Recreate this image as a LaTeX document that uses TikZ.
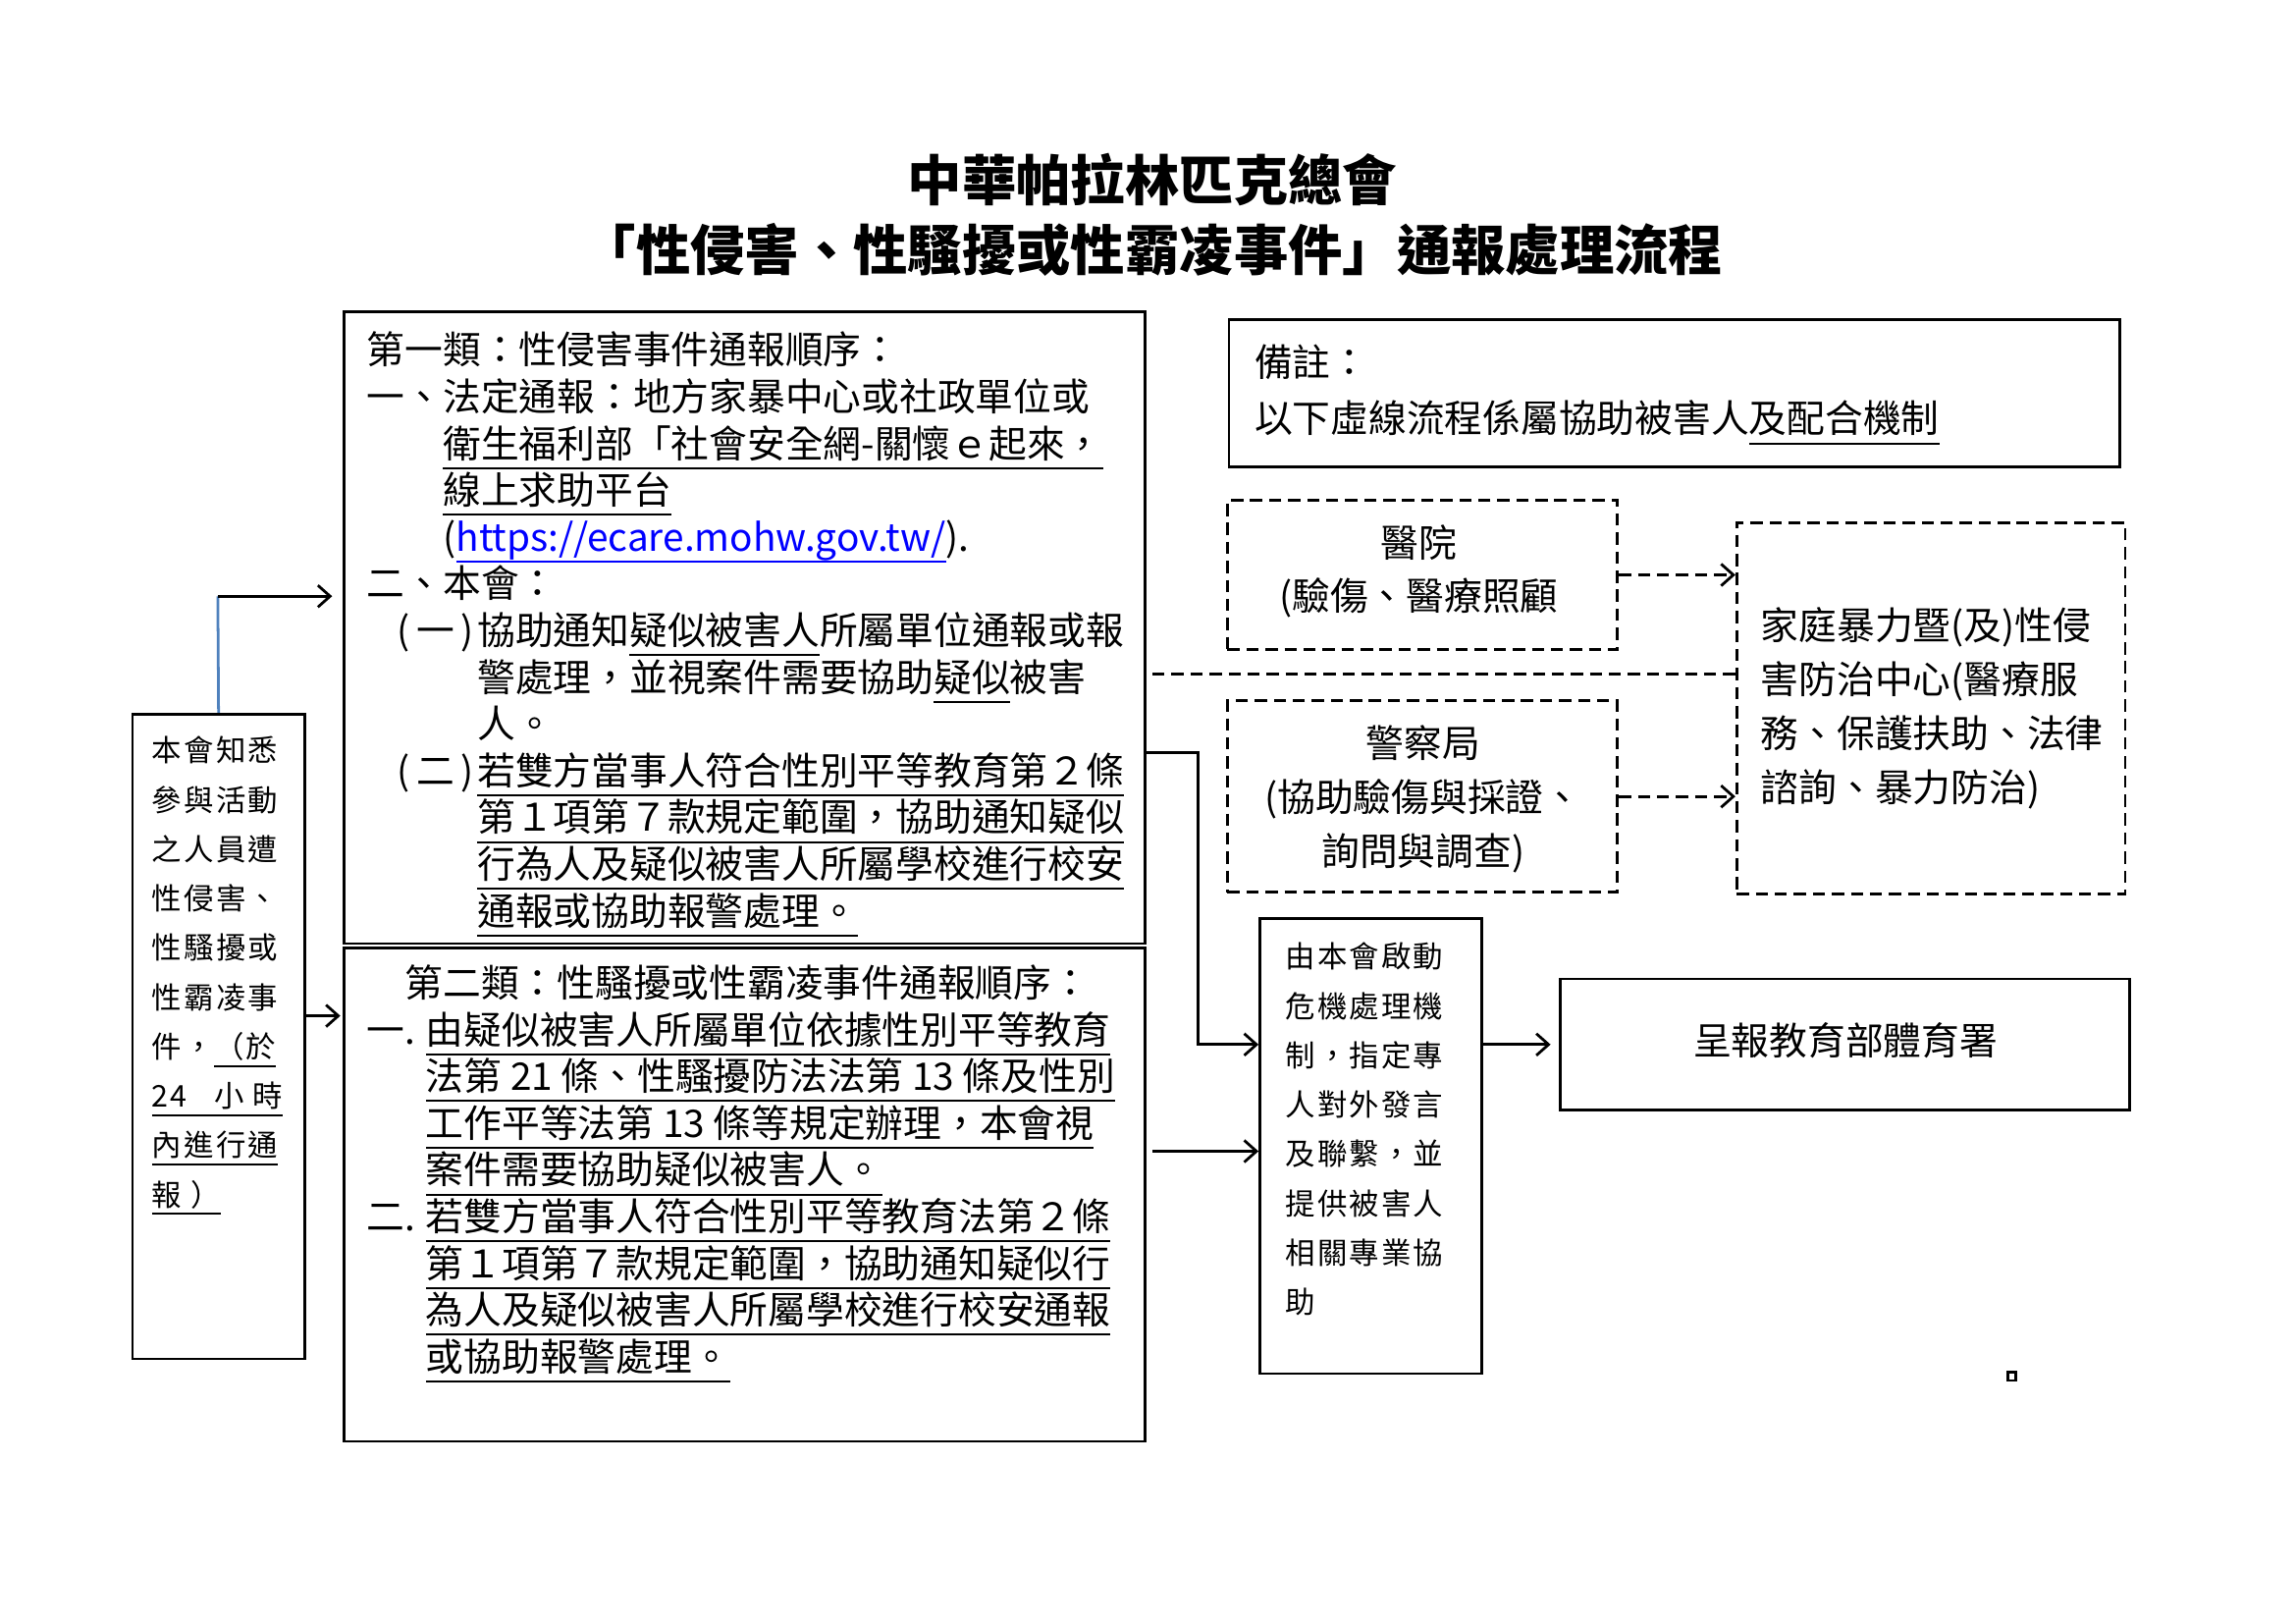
\documentclass[tikz,border=0pt]{standalone}
\usepackage{fontspec}
\setmainfont{Noto Sans CJK TC}
\usetikzlibrary{arrows.meta,fit}
\definecolor{lineblue}{RGB}{79,129,189}
\newcommand{\ulx}[1]{\setbox0\hbox{#1}\rlap{\rule[-0.3em]{\wd0}{0.7pt}}\box0}
\newcommand{\pnum}[1]{\makebox[2.1em][l]{(\,#1\,)}}
\begin{document}
\begin{tikzpicture}[x=0.19038mm,y=-0.19038mm,
  box/.style={draw,line width=1pt,inner sep=0pt},
  dbox/.style={box,dash pattern=on 4.5pt off 2.5pt},
  body/.style={font=\fontsize{14pt}{17.2pt}\selectfont,align=left,anchor=north west,inner sep=0pt},
  narrowtxt/.style={font=\fontsize{11pt}{18.15pt}\selectfont\addfontfeature{LetterSpace=7},align=left,anchor=north west,inner sep=0pt},
  arr/.style={line width=1pt,-{Straight Barb[length=4.5pt,width=8pt]}},
  darr/.style={arr,dash pattern=on 4.5pt off 2.5pt}]
  \useasboundingbox (0,0) rectangle (1560,1103);

  \node[font=\bfseries\fontsize{20pt}{25.4pt}\selectfont,align=center] (title) at (783,146)
    {中華帕拉林匹克總會\\「性侵害、性騷擾或性霸凌事件」通報處理流程};

  \node[box,fit={(234,212) (778,641)}] (cat1) {};
  \node[body] (cat1txt) at (249,225) {第一類：性侵害事件通報順序：\\
    一、法定通報：地方家暴中心或社政單位或\\
    \hspace*{2em}\ulx{衛生福利部「社會安全網-關懷ｅ起來，}\\
    \hspace*{2em}\ulx{線上求助平台}\\
    \hspace*{2em}(\textcolor{blue}{\ulx{https://ecare.mohw.gov.tw/}}).\\
    二、本會：\\
    \hspace*{0.8em}\pnum{一}協助通知\ulx{疑似被害人}所屬單位通報或報\\
    \hspace*{2.9em}警處理，並視案件需要協助\ulx{疑似}被害\\
    \hspace*{2.9em}人。\\
    \hspace*{0.8em}\pnum{二}\ulx{若雙方當事人符合性別平等教育第２條}\\
    \hspace*{2.9em}\ulx{第１項第７款規定範圍，協助通知疑似}\\
    \hspace*{2.9em}\ulx{行為人及疑似被害人所屬學校進行校安}\\
    \hspace*{2.9em}\ulx{通報或協助報警處理。}};

  \node[box,fit={(234,644) (778,979)}] (cat2) {};
  \node[body] (cat2txt) at (249,655) {\hspace*{1em}第二類：性騷擾或性霸凌事件通報順序：\\
    \makebox[1.55em][l]{一.}\ulx{由疑似被害人所屬單位依據性別平等教育}\\
    \hspace*{1.55em}\ulx{法第 21 條、性騷擾防法法第 13 條及性別}\\
    \hspace*{1.55em}\ulx{工作平等法第 13 條等規定辦理，本會視}\\
    \hspace*{1.55em}\ulx{案件需要協助疑似被害人。}\\
    \makebox[1.55em][l]{二.}\ulx{若雙方當事人符合性別平等教育法第２條}\\
    \hspace*{1.55em}\ulx{第１項第７款規定範圍，協助通知疑似行}\\
    \hspace*{1.55em}\ulx{為人及疑似被害人所屬學校進行校安通報}\\
    \hspace*{1.55em}\ulx{或協助報警處理。}};

  \node[box,fit={(90,485) (207,923)}] (aware) {};
  \node[narrowtxt] (awaretxt) at (103,500) {本會知悉\\參與活動\\之人員遭\\性侵害、\\性騷擾或\\性霸凌事\\
    件，\ulx{（於}\\\ulx{24\hspace{0.9em}小\hspace{0.3em}時}\\\ulx{內進行通}\\\ulx{報 ）}};

  \node[box,fit={(835,217) (1440,317)}] (note) {};
  \node[body,font=\fontsize{14pt}{20.6pt}\selectfont] (notetxt) at (852,234)
    {備註：\\以下虛線流程係屬協助被害人\ulx{及配合機制}};

  \node[dbox,fit={(834,340) (1099,441)}] (hosp) {};
  \node[font=\fontsize{14pt}{19.5pt}\selectfont,align=center] (hosptxt) at (964,388) {醫院\\(驗傷、醫療照顧};
  \node[dbox,fit={(834,476) (1099,606)}] (police) {};
  \node[font=\fontsize{14pt}{19.8pt}\selectfont,align=center] (policetxt) at (967,543)
    {警察局\\(協助驗傷與採證、\\詢問與調查)};
  \node[dbox,fit={(1180,355) (1444,607)}] (center) {};
  \node[body,font=\fontsize{14pt}{19.9pt}\selectfont] (centertxt) at (1196,412)
    {家庭暴力暨(及)性侵\\害防治中心(醫療服\\務、保護扶助、法律\\諮詢、暴力防治)};

  \node[box,fit={(856,624) (1007,933)}] (crisis) {};
  \node[narrowtxt] (crisistxt) at (873,640) {由本會啟動\\危機處理機\\制，指定專\\人對外發言\\及聯繫，並\\提供被害人\\相關專業協\\助};

  \node[box,fit={(1060,665) (1447,754)}] (report) {};
  \node[font=\fontsize{14pt}{17pt}\selectfont] (reporttxt) at (1254,707) {呈報教育部體育署};

  \node[draw,line width=1pt,minimum size=3pt,inner sep=0pt] (dot) at (1367,935) {};

  \coordinate (up) at (148,405);
  \coordinate (tocat2) at (207,690);
  \coordinate (bend) at (814,511);
  \coordinate (fromcat2) at (783,782);
  \coordinate (side) at (783,458);

  \draw[lineblue,line width=1pt] (aware.north) -- (up);
  \draw[arr,shorten >=4pt] (up) -- (up -| cat1.west);
  \draw[arr,shorten >=1pt] (tocat2) -- (tocat2 -| cat2.west);
  \draw[arr] (bend -| cat1.east) -- (bend) |- (crisis.west |- report.west);
  \draw[arr] (fromcat2) -- (fromcat2 -| crisis.west);
  \draw[arr,shorten >=3pt] (crisis.east |- report.west) -- (report.west);
  \draw[line width=1pt,dash pattern=on 4.5pt off 2.5pt] (side) -- (side -| center.west);
  \draw[darr] (hosp.east) -- (hosp.east -| center.west);
  \draw[darr] (police.east) -- (police.east -| center.west);
\end{tikzpicture}
\end{document}
